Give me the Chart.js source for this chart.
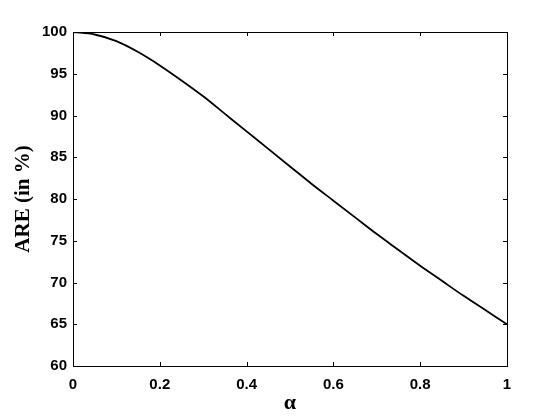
<!DOCTYPE html>
<html>
<head>
<meta charset="utf-8">
<script src="https://cdn.jsdelivr.net/npm/chart.js@4/dist/chart.umd.min.js"></script>
<style>
  html, body { margin: 0; padding: 0; background: #fff; }
  canvas { display: block; }
</style>
</head>
<body>
<canvas id="areChart" width="560" height="420"></canvas>
<script>
// Valeurs
const alphaValues = [0, 0.05, 0.1, 0.15, 0.2, 0.25, 0.3, 0.35, 0.4, 0.45, 0.5,
                     0.55, 0.6, 0.65, 0.7, 0.75, 0.8, 0.85, 0.9, 0.95, 1];
const areValues = [100, 99.7, 98.9, 97.6, 96.0, 94.2, 92.3, 90.2, 88.1, 86.0, 83.9,
                   81.8, 79.8, 77.8, 75.8, 73.9, 72.0, 70.2, 68.4, 66.7, 65.0];
const xTickLabels = ['0', '0.2', '0.4', '0.6', '0.8', '1'];
const yTickLabels = ['60', '65', '70', '75', '80', '85', '90', '95', '100'];

// Cadre + graduations vers l'intérieur (style MATLAB)
const framePlugin = {
    id: 'frame',
    afterDraw(chart) {
        const ctx = chart.ctx;
        const area = chart.chartArea;
        const xs = chart.scales.x;
        const ys = chart.scales.y;
        const len = 4;
        ctx.save();
        ctx.strokeStyle = '#000';
        ctx.lineWidth = 1;
        ctx.strokeRect(Math.round(area.left) + 0.5, Math.round(area.top) + 0.5,
                       Math.round(area.right - area.left), Math.round(area.bottom - area.top));
        ctx.beginPath();
        xs.ticks.forEach(t => {
            const px = Math.round(xs.getPixelForValue(t.value)) + 0.5;
            ctx.moveTo(px, area.bottom);
            ctx.lineTo(px, area.bottom - len);
            ctx.moveTo(px, area.top);
            ctx.lineTo(px, area.top + len);
        });
        ys.ticks.forEach(t => {
            const py = Math.round(ys.getPixelForValue(t.value)) + 0.5;
            ctx.moveTo(area.left, py);
            ctx.lineTo(area.left + len, py);
            ctx.moveTo(area.right, py);
            ctx.lineTo(area.right - len, py);
        });
        ctx.stroke();
        ctx.restore();
    }
};

const tickFont = { family: '"Liberation Sans", Arial, sans-serif', size: 15, weight: 'bold' };

new Chart(document.getElementById('areChart'), {
    type: 'line',
    data: {
        datasets: [{
            data: alphaValues.map((a, i) => ({ x: a, y: areValues[i] })),
            borderColor: '#000',
            borderWidth: 1.8,
            pointRadius: 0,
            cubicInterpolationMode: 'monotone',
            fill: false
        }]
    },
    options: {
        responsive: false,
        animation: false,
        layout: { padding: { top: 32, right: 53, left: 0, bottom: 0 } },
        plugins: { legend: { display: false }, tooltip: { enabled: false } },
        scales: {
            x: {
                type: 'linear',
                min: 0,
                max: 1,
                grid: { display: false, drawTicks: false },
                border: { display: false },
                ticks: {
                    stepSize: 0.2,
                    color: '#000',
                    font: tickFont,
                    padding: 10,
                    maxRotation: 0,
                    callback: (v, i) => xTickLabels[i]
                },
                title: {
                    display: true,
                    text: 'α',
                    color: '#000',
                    font: { family: '"Liberation Serif", "Times New Roman", serif', size: 22, weight: 'bold' },
                    padding: { top: 0, bottom: 3 }
                },
                afterFit(scale) { scale.height = 54; }
            },
            y: {
                min: 60,
                max: 100,
                grid: { display: false, drawTicks: false },
                border: { display: false },
                ticks: {
                    stepSize: 5,
                    color: '#000',
                    font: tickFont,
                    padding: 6,
                    callback: (v, i) => yTickLabels[i]
                },
                title: {
                    display: true,
                    text: 'ARE (in %)',
                    color: '#000',
                    font: { family: '"Liberation Serif", "Times New Roman", serif', size: 21, weight: 'bold' },
                    padding: { top: 11, bottom: 0 }
                },
                afterFit(scale) { scale.width = 73; }
            }
        }
    },
    plugins: [framePlugin]
});
</script>
</body>
</html>
